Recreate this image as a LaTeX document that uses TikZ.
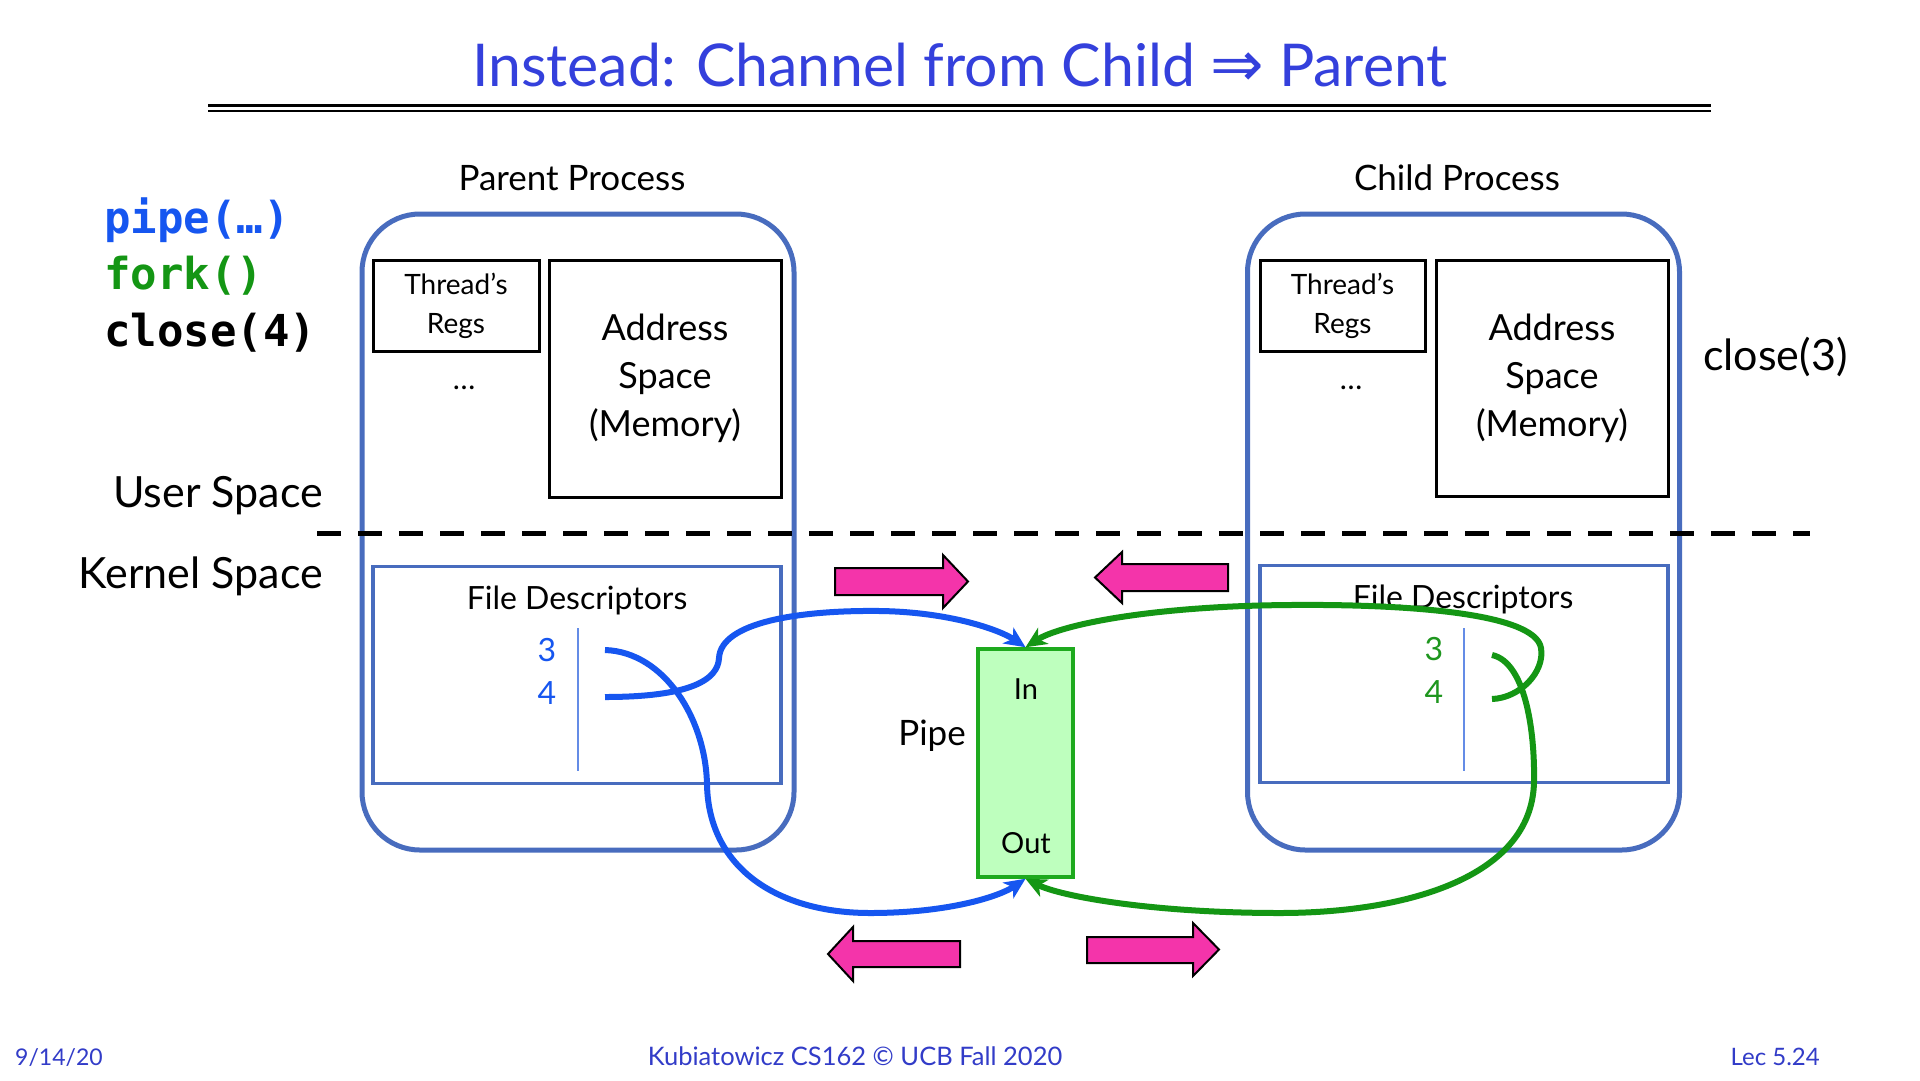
\documentclass[tikz,border=0pt]{standalone}
\usepackage{fontspec}
\setmainfont{Lato}
\newfontfamily\codefont{DejaVu Sans Mono}
\newfontfamily\symfont{DejaVu Sans}
\usetikzlibrary{arrows.meta}
\definecolor{titleblue}{RGB}{52,64,220}
\definecolor{boxblue}{RGB}{72,108,190}
\definecolor{curveblue}{RGB}{22,86,240}
\definecolor{curvegreen}{RGB}{20,150,20}
\definecolor{numgreen}{RGB}{30,150,30}
\definecolor{pipegreen}{RGB}{190,255,190}
\definecolor{pipeedge}{RGB}{30,170,30}
\definecolor{pinkfill}{RGB}{244,52,170}
\definecolor{footblue}{RGB}{50,60,200}
\definecolor{sepblue}{RGB}{100,140,230}
\newcommand{\fsz}[2]{\fontsize{#1}{#2}\selectfont}
\begin{document}
\begin{tikzpicture}[x=1pt,y=-1pt,
  proc/.style={draw=boxblue, line width=5pt, rounded corners=58pt, minimum width=432pt, minimum height=636pt, inner sep=0pt},
  blackbox/.style={draw=black, line width=3pt, inner sep=0pt},
  fdbox/.style={draw=boxblue, line width=3.5pt, inner sep=0pt, minimum width=408pt, minimum height=217pt},
  lbl/.style={inner sep=0pt, anchor=base},
  pinkarrow/.style={fill=pinkfill, draw=black, line width=2pt, line join=miter},
  sepline/.style={draw=sepblue, line width=2pt},
  bluecurve/.style={draw=curveblue, line width=6pt, -{Stealth[length=21pt,width=19pt,inset=6pt]}},
  greencurve/.style={draw=curvegreen, line width=6pt, -{Stealth[length=21pt,width=19pt,inset=6pt]}}
]
\useasboundingbox (0,0) rectangle (1920,1080);
\fill[white] (0,0) rectangle (1920,1080);

% title
\node[lbl, font=\fsz{59}{64}, text=titleblue] (title) at (960,86) {Instead: Channel from Child {\symfont\fsz{64}{70}⇒} Parent};
\draw[line width=3pt] (208,105) -- (1711,105);
\draw[line width=2pt] (208,110.5) -- (1711,110.5);

% code
\node[lbl, anchor=base west, font=\codefont\bfseries\fsz{44}{50}, text=curveblue] (c1) at (104,233) {pipe(…)};
\node[lbl, anchor=base west, font=\codefont\bfseries\fsz{44}{50}, text=curvegreen] (c2) at (104,289) {fork()};
\node[lbl, anchor=base west, font=\codefont\bfseries\fsz{44}{50}, text=black] (c3) at (104,346) {close(4)};

% labels
\node[lbl, anchor=base east, font=\fsz{43}{48}] (user) at (323,507) {User Space};
\node[lbl, anchor=base east, font=\fsz{43}{48}] (kern) at (323,588) {Kernel Space};
\node[lbl, anchor=base west, font=\fsz{43}{48}] (cl3) at (1703,370) {close(3)};

% processes
\node[proc] (parent) at (578,532) {};
\node[proc] (child) at (1463.5,532) {};
\node[lbl, font=\fsz{35}{40}] (ptitle) at (572,190) {Parent Process};
\node[lbl, font=\fsz{35}{40}] (ctitle) at (1457,190) {Child Process};

% parent user part
\node[blackbox, minimum width=166pt, minimum height=91pt, align=center, font=\fsz{28}{39}] (pregs) at (456,305.5) {Thread’s\\Regs};
\node[blackbox, minimum width=232pt, minimum height=237pt, align=center, font=\fsz{36}{48}] (paddr) at (665,378.5) {Address\\Space\\(Memory)};
\node[lbl, font=\fsz{30}{36}] (pdots) at (464,389) {…};

% child user part
\node[blackbox, minimum width=165pt, minimum height=91pt, align=center, font=\fsz{28}{39}] (cregs) at (1342.5,305.5) {Thread’s\\Regs};
\node[blackbox, minimum width=232pt, minimum height=236pt, align=center, font=\fsz{36}{48}] (caddr) at (1552,378) {Address\\Space\\(Memory)};
\node[lbl, font=\fsz{30}{36}] (cdots) at (1351,389) {…};

% dashed separator
\draw[line width=5pt, dash pattern=on 24pt off 17pt] (317,533) -- (1810,533);

% file descriptors
\node[fdbox] (pfd) at (577,675) {};
\node[fdbox] (cfd) at (1464,674) {};
\node[lbl, font=\fsz{32}{36}] (pfdt) at (577,609) {File Descriptors};
\node[lbl, font=\fsz{32}{36}] (cfdt) at (1463,608) {File Descriptors};
\draw[sepline] (578,628) -- (578,771);
\draw[sepline] (1464,628) -- (1464,771);
\node[lbl, font=\fsz{32}{36}, text=curveblue] (p3) at (547,661) {3};
\node[lbl, font=\fsz{32}{36}, text=curveblue] (p4) at (547,704) {4};
\node[lbl, font=\fsz{32}{36}, text=numgreen] (c3n) at (1434,660) {3};
\node[lbl, font=\fsz{32}{36}, text=numgreen] (c4n) at (1434,703) {4};
\coordinate (p3s) at (605,650);
\coordinate (p4s) at (605,697);
\coordinate (c3s) at (1492,655);
\coordinate (c4s) at (1492,699);

% pipe
\node[draw=pipeedge, fill=pipegreen, line width=3.5pt, minimum width=95pt, minimum height=228pt, inner sep=0pt] (pipe) at (1025.5,763) {};
\node[lbl, font=\fsz{29}{34}] (pin) at (1026,699) {In};
\node[lbl, font=\fsz{29}{34}] (pout) at (1026,853) {Out};
\node[lbl, font=\fsz{35}{40}] (plbl) at (932,745) {Pipe};

% pink arrows
\draw[pinkarrow] (835,568) -- (943,568) -- (943,555) -- (968,581.5) -- (943,608) -- (943,595) -- (835,595) -- cycle;
\draw[pinkarrow] (1228,564) -- (1122,564) -- (1122,552) -- (1095,577.5) -- (1122,603) -- (1122,591) -- (1228,591) -- cycle;
\draw[pinkarrow] (960,941) -- (853,941) -- (853,927) -- (828,954) -- (853,981) -- (853,967) -- (960,967) -- cycle;
\draw[pinkarrow] (1087,937) -- (1193,937) -- (1193,923) -- (1219,949.5) -- (1193,976) -- (1193,963) -- (1087,963) -- cycle;

% curves
\draw[bluecurve] (p4s) .. controls (690,697) and (718,680) .. (719,658) .. controls (721,622) and (800,610) .. (880,611) .. controls (950,612) and (1000,630) .. (pipe.north);
\draw[bluecurve] (p3s) .. controls (665,652) and (706,720) .. (707,785) .. controls (709,870) and (780,913) .. (870,913) .. controls (950,913) and (1000,896) .. (pipe.south);
\draw[greencurve] (c4s) .. controls (1520,698) and (1545,672) .. (1541,648) .. controls (1535,612) and (1400,604) .. (1290,605) .. controls (1150,606) and (1060,625) .. (pipe.north);
\draw[greencurve] (c3s) .. controls (1525,662) and (1535,730) .. (1534,782) .. controls (1532,880) and (1400,913) .. (1280,913) .. controls (1150,913) and (1060,896) .. (pipe.south);

% footer
\node[lbl, anchor=base west, font=\fsz{23}{28}, text=footblue] (fdate) at (15,1065) {9/14/20};
\node[lbl, font=\fsz{25.5}{30}, text=footblue] (fmid) at (855,1065) {Kubiatowicz CS162 © UCB Fall 2020};
\node[lbl, anchor=base east, font=\fsz{24}{28}, text=footblue] (flec) at (1820,1065) {Lec 5.24};
\end{tikzpicture}
\end{document}
